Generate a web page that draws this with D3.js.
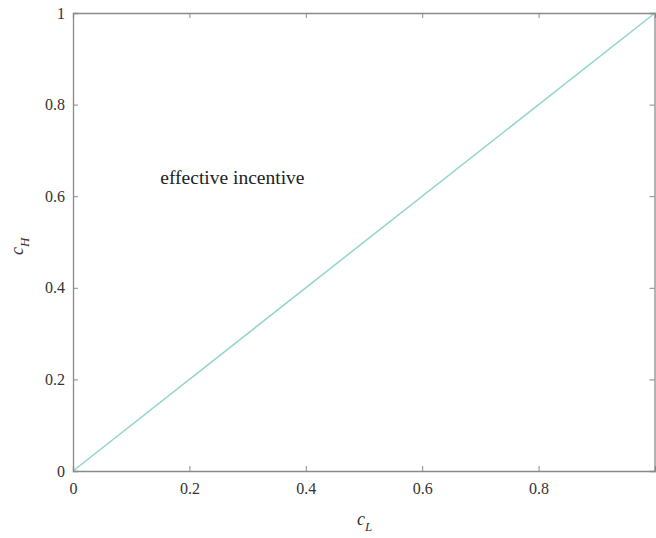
<!DOCTYPE html>
<html>
<head>
<meta charset="utf-8">
<script src="https://cdn.jsdelivr.net/npm/d3@7"></script>
</head>
<body style="margin:0; background:#fff">
<script>
// data
var lineX = [0, 1];
var lineY = [0, 1];
var xTicks = [0, 0.2, 0.4, 0.6, 0.8];
var yTicks = [0, 0.2, 0.4, 0.6, 0.8, 1];
var note = {text: 'effective incentive', x: 0.15, y: 0.64};

var width = 656, height = 538;
var margin = {left: 73, top: 13, right: 1, bottom: 67};
var font = 'Times New Roman, Tinos, Liberation Serif, serif';

var svg = d3.select('body').append('svg')
	.attr('width', width)
	.attr('height', height)
	.attr('font-family', font);

var x = d3.scaleLinear().domain([0, 1]).range([margin.left, width - margin.right]);
var y = d3.scaleLinear().domain([0, 1]).range([height - margin.bottom, margin.top]);

var axisColor = '#8a8a8a';

// series
var pts = lineX.map(function(d, i){ return [d, lineY[i]]; });
svg.append('path')
	.datum(pts)
	.attr('fill', 'none')
	.attr('stroke', '#92d4ca')
	.attr('stroke-width', 1.5)
	.attr('d', d3.line().x(function(d){ return x(d[0]); }).y(function(d){ return y(d[1]); }));

// axes, ticks pointing in
var fmt = function(d){ return (d === 0 || d === 1) ? String(d) : d3.format('.1f')(d); };
var xAxis = svg.append('g')
	.attr('transform', 'translate(0,' + y(0) + ')')
	.call(d3.axisBottom(x).tickValues(xTicks).tickSize(-5).tickPadding(12).tickFormat(fmt));
var xTop = svg.append('g')
	.attr('transform', 'translate(0,' + y(1) + ')')
	.call(d3.axisTop(x).tickValues(xTicks).tickSize(-5).tickFormat(''));
var yAxis = svg.append('g')
	.attr('transform', 'translate(' + x(0) + ',0)')
	.call(d3.axisLeft(y).tickValues(yTicks).tickSize(-5).tickPadding(8).tickFormat(fmt));
var yRight = svg.append('g')
	.attr('transform', 'translate(' + (x(1) - 0.5) + ',0)')
	.call(d3.axisRight(y).tickValues(yTicks).tickSize(-5).tickFormat(''));

[xAxis, xTop, yAxis, yRight].forEach(function(g){
	g.attr('font-family', font).attr('font-size', 16);
	g.select('.domain').attr('stroke', axisColor).attr('stroke-width', 1.3);
	g.selectAll('.tick line').attr('stroke', axisColor);
	g.selectAll('.tick text').attr('fill', '#333');
});

// annotation
svg.append('text')
	.attr('x', x(note.x))
	.attr('y', y(note.y) + 6)
	.attr('fill', '#222')
	.attr('font-size', 19.5)
	.text(note.text);

// axis labels
var xl = svg.append('text')
	.attr('x', 357)
	.attr('y', 525)
	.attr('fill', '#333')
	.attr('font-size', 18)
	.attr('font-style', 'italic');
xl.append('tspan').text('c');
xl.append('tspan').attr('dy', 6).attr('font-size', 13).text('L');

var yl = svg.append('text')
	.attr('transform', 'translate(23,255) rotate(-90)')
	.attr('fill', '#333')
	.attr('font-size', 18)
	.attr('font-style', 'italic');
yl.append('tspan').text('c');
yl.append('tspan').attr('dy', 6).attr('font-size', 13).text('H');
</script>
</body>
</html>
